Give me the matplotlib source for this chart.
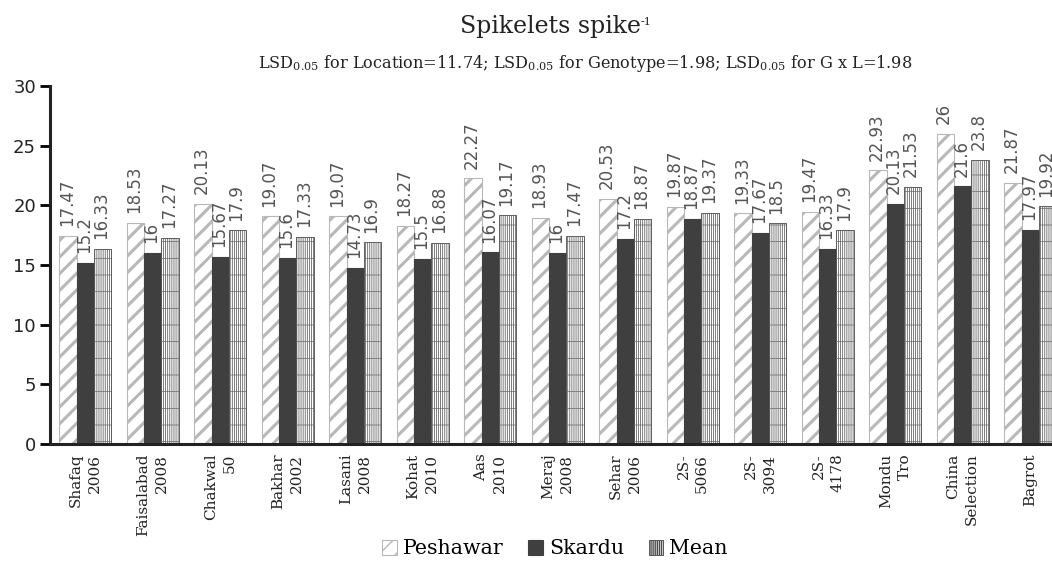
import matplotlib
matplotlib.use("Agg")
import matplotlib.pyplot as plt
import numpy as np

categories = ["Shafaq\n2006", "Faisalabad\n2008", "Chakwal\n50", "Bakhar\n2002",
              "Lasani\n2008", "Kohat\n2010", "Aas\n2010", "Meraj\n2008",
              "Sehar\n2006", "2S-\n5066", "2S-\n3094", "2S-\n4178",
              "Mondu\nTro", "China\nSelection", "Bagrot"]
peshawar = [17.47, 18.53, 20.13, 19.07, 19.07, 18.27, 22.27, 18.93, 20.53,
            19.87, 19.33, 19.47, 22.93, 26, 21.87]
skardu = [15.2, 16, 15.67, 15.6, 14.73, 15.5, 16.07, 16, 17.2,
          18.87, 17.67, 16.33, 20.13, 21.6, 17.97]
mean = [16.33, 17.27, 17.9, 17.33, 16.9, 16.88, 19.17, 17.47, 18.87,
        19.37, 18.5, 17.9, 21.53, 23.8, 19.92]
series_names = ["Peshawar", "Skardu", "Mean"]
yticks = [0, 5, 10, 15, 20, 25, 30]

SERIF = "DejaVu Serif"
SANS = "DejaVu Sans"

fig = plt.figure(figsize=(10.52, 5.64), dpi=100)
ax = fig.add_axes([50 / 1052, 120 / 564, 1002 / 1052, 358 / 564])

x = np.arange(len(categories))
w = 0.256

b1 = ax.bar(x - w, peshawar, w, facecolor="white", edgecolor="#b8b8b8",
            hatch="//", linewidth=0.8, label=series_names[0])
b2 = ax.bar(x, skardu, w, facecolor="#3f3f3f", edgecolor="#3f3f3f",
            linewidth=0.8, label=series_names[1])
b3 = ax.bar(x + w, mean, w, facecolor="white", edgecolor="#4a4a4a",
            hatch="||||||||", linewidth=0.6, label=series_names[2])
for p in b1:
    if hasattr(p, "set_hatch_linewidth"):
        p.set_hatch_linewidth(2.2)
for p in b3:
    if hasattr(p, "set_hatch_linewidth"):
        p.set_hatch_linewidth(0.5)
# horizontal texture on the Mean bars
b3h = ax.bar(x + w, mean, w, facecolor="none", edgecolor="#666666",
             hatch="-", linewidth=0)
for p in b3h:
    if hasattr(p, "set_hatch_linewidth"):
        p.set_hatch_linewidth(0.5)

for xs, vals in ((x - w, peshawar), (x, skardu), (x + w, mean)):
    for xi, v in zip(xs, vals):
        ax.annotate(f"{v:g}", (xi, v), xytext=(-1, 7), textcoords="offset points",
                    rotation=90, ha="center", va="bottom", fontsize=12,
                    family=SANS, color="#555555", annotation_clip=False)

ax.set_xlim(-0.523, -0.523 + 1002 / 67.5)
ax.set_ylim(0, 30)
ax.set_yticks(yticks)
ax.set_yticklabels([str(t) for t in yticks], family=SANS, fontsize=13, color="#222222")
ax.tick_params(axis="y", length=7, width=2, direction="out", pad=3)
ax.set_xticks(x)
ax.set_xticklabels(categories, rotation=90, ha="center", va="top",
                   multialignment="right", family=SERIF, fontsize=11,
                   color="#222222", linespacing=1.4)
ax.tick_params(axis="x", length=0, pad=7)
for s in ("top", "right"):
    ax.spines[s].set_visible(False)
ax.spines["left"].set_linewidth(2.2)
ax.spines["bottom"].set_linewidth(2.2)
ax.spines["left"].set_color("#222222")
ax.spines["bottom"].set_color("#222222")

title = fig.text(550 / 1052, 1 - 27 / 564, "Spikelets spike",
                 ha="center", va="center", family=SERIF, fontsize=17, color="#222222")
ax.annotate("-1", xy=(1.0, 0.95), xycoords=title, ha="left", va="top",
            fontsize=8, family=SERIF, color="#222222")

fig.text(585 / 1052, 1 - 63 / 564,
         r"LSD$_{\mathregular{0.05}}$ for Location=11.74; LSD$_{\mathregular{0.05}}$ for Genotype=1.98; LSD$_{\mathregular{0.05}}$ for G x L=1.98",
         ha="center", va="center", family=SERIF, fontsize=11.6, color="#222222")

leg = fig.legend(handles=[b1, b2, b3], labels=series_names, loc="center",
                 bbox_to_anchor=(555 / 1052, 1 - 549 / 564), ncol=3, frameon=False,
                 prop={"family": SERIF, "size": 14.8}, handlelength=0.7,
                 handleheight=0.7, handletextpad=0.3, columnspacing=1.2)

fig.savefig("out.png", dpi=100)
